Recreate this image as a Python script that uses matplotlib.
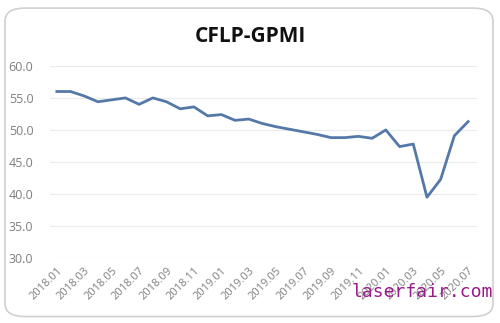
import matplotlib
matplotlib.use("Agg")
from matplotlib import pyplot as plt
from matplotlib.patches import FancyBboxPatch

# monthly index values, 2018.01 - 2020.07
months = [f"{y}.{m:02d}" for y in (2018, 2019, 2020) for m in range(1, 13)][:31]
gpmi = [56.0, 56.0, 55.3, 54.4, 54.7, 55.0, 54.0, 55.0, 54.4, 53.3,
        53.6, 52.2, 52.4, 51.5, 51.7, 51.0, 50.5, 50.1, 49.7, 49.3,
        48.8, 48.8, 49.0, 48.7, 50.0, 47.4, 47.8, 39.5, 42.3, 49.1,
        51.3]
yticks = [30, 35, 40, 45, 50, 55, 60]

fig = plt.figure(figsize=(5, 3.23), dpi=100)

# rounded chart frame
frame = FancyBboxPatch((0.01, 0.02), 0.976, 0.955,
                       boxstyle="round,pad=0,rounding_size=0.04",
                       transform=fig.transFigure, facecolor="white",
                       edgecolor="#d0d0d0", linewidth=1.2, zorder=-1)
fig.patches.append(frame)

ax = fig.add_axes([0.1, 0.201, 0.854, 0.595], zorder=1)
x = list(range(len(months)))
ax.plot(x, gpmi, color="#5479a8", linewidth=2.0, zorder=3)

ax.set_ylim(30, 60)
ax.set_xlim(-0.5, len(months) - 0.35)
ax.set_yticks(yticks)
ax.set_yticklabels([f"{v:.1f}" for v in yticks], color="#7f7f7f",
                   fontsize=9, family="Open Sans")
ax.set_xticks(x[::2])
ax.set_xticklabels(months[::2], rotation=45, ha="right", rotation_mode="anchor",
                   color="#7f7f7f", fontsize=8, family="Open Sans")
ax.tick_params(axis="y", length=0, pad=12)
ax.tick_params(axis="x", length=0, pad=5)
ax.grid(axis="y", color="#ebebeb", linewidth=0.9)
ax.set_axisbelow(True)
for s in ax.spines.values():
    s.set_visible(False)
ax.patch.set_alpha(0)

fig.text(0.5, 0.888, "CFLP-GPMI", ha="center", va="center",
         fontsize=15, fontweight="bold", family="Open Sans", color="#111111")

fig.text(0.985, 0.097, "laserfair.com", ha="right", va="center",
         fontsize=13, family="DejaVu Sans Mono", color="#9b1a8c", zorder=5)

fig.savefig("out.png", dpi=100)
